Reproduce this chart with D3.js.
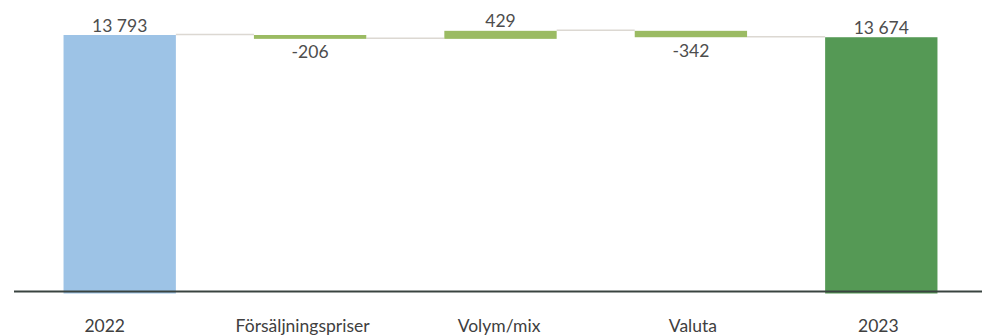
<!DOCTYPE html>
<html><head><meta charset="utf-8">
<script src="https://cdn.jsdelivr.net/npm/d3@7"></script>
<style>html,body{margin:0;padding:0;background:#fff;}svg{display:block;}</style>
</head><body>
<svg id="c" width="982" height="335"></svg>
<script>
const categories = ["2022", "Försäljningspriser", "Volym/mix", "Valuta", "2023"];
const values = [13793, -206, 429, -342, 13674];
const kinds = ["total", "delta", "delta", "delta", "total"];
const labels = ["13 793", "-206", "429", "-342", "13 674"];

const colors = {start: "#9DC3E6", delta: "#9BBB63", end: "#559955"};
const FONT = "Lato, 'Open Sans', sans-serif";

const svg = d3.select("#c");
const x = d3.scaleBand().domain(categories).range([24.5, 976.5]).paddingInner(0.41).paddingOuter(0.205);
const y = d3.scaleLinear().domain([0, 13793]).range([293.5, 35]);

let run = 0;
const data = categories.map((c, i) => {
  let y0, y1;
  if (kinds[i] === "total") { y0 = 0; y1 = values[i]; run = values[i]; }
  else { y0 = run; y1 = run + values[i]; run = y1; }
  return {c, v: values[i], y0, y1, lab: labels[i], kind: kinds[i], i, end: run};
});

// connectors
svg.append("g").selectAll("line").data(data.slice(0, -1)).join("line")
  .attr("x1", d => x(d.c) + x.bandwidth())
  .attr("x2", (d, i) => x(categories[i + 1]))
  .attr("y1", d => y(d.end) - 0.5)
  .attr("y2", d => y(d.end) - 0.5)
  .attr("stroke", "#DCD8D2").attr("stroke-width", 1.5);

svg.append("g").selectAll("rect").data(data).join("rect")
  .attr("x", d => x(d.c))
  .attr("width", x.bandwidth())
  .attr("y", d => y(Math.max(d.y0, d.y1)))
  .attr("height", d => Math.abs(y(d.y0) - y(d.y1)))
  .attr("fill", d => d.i === 0 ? colors.start : (d.kind === "total" ? colors.end : colors.delta));

// axis line
svg.append("line").attr("x1", 14).attr("x2", 982)
  .attr("y1", y(0) - 2).attr("y2", y(0) - 2)
  .attr("stroke", "#3A4440").attr("stroke-width", 2);

// value labels
svg.append("g").selectAll("text").data(data).join("text")
  .attr("x", d => x(d.c) + x.bandwidth() / 2)
  .attr("y", d => d.v < 0 ? y(Math.min(d.y0, d.y1)) + 19.5 : y(Math.max(d.y0, d.y1)) - 3.5)
  .attr("text-anchor", "middle")
  .attr("font-family", FONT).attr("font-size", 17.5)
  .attr("fill", "#4D4D4D")
  .text(d => d.lab);

// category labels (slight horizontal nudges as in the source layout)
const labelNudge = [-15, -7.5, -1.5, 2, -3];
svg.append("g").selectAll("text").data(categories).join("text")
  .attr("x", (d, i) => x(d) + x.bandwidth() / 2 + labelNudge[i])
  .attr("y", 331.5)
  .attr("text-anchor", "middle")
  .attr("font-family", FONT).attr("font-size", 17.5)
  .attr("fill", "#404040")
  .text(d => d);
</script>
</body></html>
